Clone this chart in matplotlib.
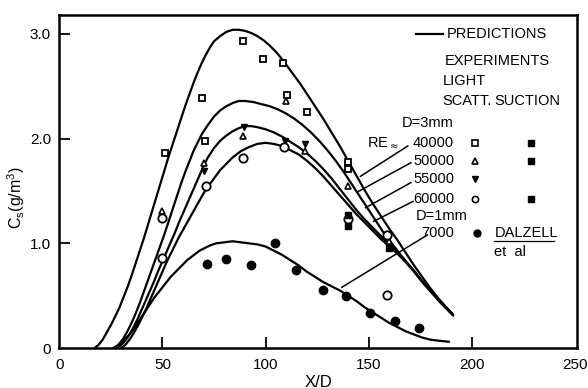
import matplotlib
matplotlib.use("Agg")
import matplotlib.pyplot as plt

plt.rcParams['font.family'] = ['Liberation Sans Narrow', 'Liberation Sans', 'DejaVu Sans']

# predicted curves, values
pred_x_40000 = [17, 19, 21, 23, 25, 27, 29, 31, 33, 35, 37, 39, 41, 43, 45, 47, 49, 51, 53, 55, 57, 59, 61, 63,
                65, 67, 69, 71, 73, 75, 78, 81, 84, 87, 90, 93, 96, 99, 102, 105, 108, 111, 114, 117, 120, 124,
                128, 132, 136, 140, 144, 148, 152, 156, 160, 164, 168, 172, 176, 180, 184, 189]
pred_y_40000 = [0, 0.03, 0.08, 0.15, 0.22, 0.30, 0.38, 0.48, 0.58, 0.69, 0.81, 0.93, 1.05, 1.18, 1.31, 1.44,
                1.57, 1.70, 1.83, 1.95, 2.07, 2.19, 2.31, 2.42, 2.53, 2.63, 2.72, 2.80, 2.87, 2.93, 2.98, 3.02,
                3.04, 3.04, 3.03, 3.01, 2.98, 2.94, 2.89, 2.83, 2.76, 2.68, 2.60, 2.52, 2.43, 2.31, 2.19, 2.06,
                1.93, 1.79, 1.65, 1.51, 1.38, 1.26, 1.14, 1.03, 0.91, 0.79, 0.68, 0.57, 0.47, 0.36]

pred_x_50000 = [27, 29, 31, 33, 35, 37, 39, 41, 43, 45, 47, 49, 51, 53, 55, 57, 59, 61, 63, 65, 67, 69, 72, 75,
                78, 81, 84, 87, 90, 94, 98, 102, 106, 110, 114, 118, 122, 126, 130, 134, 138, 142, 146, 150,
                154, 158, 162, 166, 170, 175, 180, 185, 191]
pred_y_50000 = [0, 0.04, 0.09, 0.16, 0.24, 0.33, 0.43, 0.54, 0.65, 0.76, 0.87, 0.98, 1.09, 1.21, 1.33, 1.45,
                1.57, 1.68, 1.78, 1.88, 1.96, 2.04, 2.13, 2.21, 2.27, 2.31, 2.34, 2.36, 2.36, 2.35, 2.33, 2.31,
                2.28, 2.24, 2.19, 2.13, 2.06, 1.98, 1.89, 1.79, 1.68, 1.56, 1.44, 1.32, 1.20, 1.08, 0.98, 0.88,
                0.78, 0.66, 0.55, 0.44, 0.32]

pred_x_55000 = [28, 30, 32, 34, 36, 38, 40, 42, 44, 46, 48, 50, 52, 54, 56, 58, 60, 62, 64, 66, 68, 70, 72, 75,
                78, 81, 84, 87, 90, 93, 96, 100, 104, 108, 112, 116, 120, 124, 128, 132, 136, 140, 144, 148,
                152, 156, 160, 164, 168, 172, 176, 180, 185, 191]
pred_y_55000 = [0, 0.03, 0.07, 0.13, 0.20, 0.28, 0.37, 0.46, 0.55, 0.64, 0.74, 0.83, 0.92, 1.01, 1.10, 1.20,
                1.29, 1.38, 1.47, 1.56, 1.65, 1.74, 1.82, 1.91, 1.98, 2.03, 2.07, 2.10, 2.12, 2.12, 2.11, 2.09,
                2.06, 2.02, 1.97, 1.92, 1.86, 1.79, 1.71, 1.62, 1.52, 1.42, 1.32, 1.23, 1.15, 1.07, 0.99, 0.91,
                0.83, 0.74, 0.64, 0.55, 0.44, 0.32]

pred_x_60000 = [30, 32, 34, 36, 38, 40, 42, 44, 46, 48, 50, 52, 54, 56, 58, 60, 62, 64, 66, 68, 70, 72, 75, 78,
                81, 84, 88, 92, 96, 100, 104, 108, 112, 116, 120, 124, 128, 132, 136, 140, 144, 148, 152, 156,
                160, 164, 168, 172, 176, 180, 185, 191]
pred_y_60000 = [0, 0.03, 0.08, 0.14, 0.21, 0.29, 0.37, 0.46, 0.55, 0.64, 0.73, 0.82, 0.90, 0.98, 1.06, 1.13,
                1.20, 1.27, 1.34, 1.41, 1.48, 1.54, 1.62, 1.70, 1.76, 1.82, 1.88, 1.92, 1.95, 1.96, 1.95, 1.93,
                1.89, 1.85, 1.79, 1.72, 1.64, 1.55, 1.46, 1.37, 1.28, 1.20, 1.12, 1.04, 0.97, 0.90, 0.82, 0.73,
                0.63, 0.54, 0.43, 0.31]

pred_x_7000 = [26, 28, 30, 32, 34, 36, 38, 40, 42, 44, 46, 48, 50, 52, 54, 56, 58, 60, 62, 64, 66, 68, 70, 73,
               76, 80, 84, 88, 92, 96, 100, 104, 108, 112, 116, 120, 124, 128, 132, 136, 140, 144, 148, 152,
               156, 160, 164, 168, 172, 176, 180, 184, 189]
pred_y_7000 = [0, 0.02, 0.05, 0.09, 0.13, 0.18, 0.24, 0.30, 0.36, 0.42, 0.48, 0.53, 0.58, 0.63, 0.68, 0.72,
               0.76, 0.80, 0.84, 0.87, 0.90, 0.93, 0.95, 0.98, 1.00, 1.01, 1.02, 1.01, 1.00, 0.99, 0.97, 0.93,
               0.89, 0.84, 0.79, 0.73, 0.68, 0.63, 0.59, 0.55, 0.50, 0.45, 0.39, 0.34, 0.29, 0.24, 0.20, 0.16,
               0.13, 0.10, 0.08, 0.07, 0.06]

# light scattering experiments
ls_x_40000 = [51, 69, 70.5, 89, 99, 108.5, 110.5, 120, 140, 140]
ls_y_40000 = [1.86, 2.39, 1.98, 2.93, 2.76, 2.72, 2.42, 2.25, 1.78, 1.71]
ls_x_50000 = [50, 70, 89, 110, 119, 140, 160]
ls_y_50000 = [1.31, 1.77, 2.03, 2.36, 1.88, 1.55, 1.02]
ls_x_55000 = [70, 89.6, 109.5, 119]
ls_y_55000 = [1.69, 2.11, 1.98, 1.95]
ls_x_60000 = [50, 50, 71, 89, 109, 140, 159, 159]
ls_y_60000 = [1.24, 0.86, 1.55, 1.82, 1.92, 1.23, 1.08, 0.51]

# suction experiments
su_x = [140, 140, 160]
su_y = [1.27, 1.17, 0.96]

# Dalzell et al, D = 1 mm, Re 7000
dal_x = [71.4, 81, 93, 104.6, 114.6, 127.8, 138.8, 150.8, 163, 174.6]
dal_y = [0.80, 0.85, 0.79, 1.00, 0.75, 0.55, 0.50, 0.33, 0.26, 0.19]

re_labels = ['40000', '50000', '55000', '60000']
leaders = [((146, 1.64), (169, 1.93)), ((144.5, 1.49), (170.5, 1.77)),
           ((148.5, 1.34), (170.5, 1.58)), ((152.4, 1.21), (171.5, 1.40))]

fig = plt.figure(figsize=(5.88, 3.88), dpi=100)
ax = fig.add_axes([0.101, 0.103, 0.880, 0.858])

for xs, ys in [(pred_x_40000, pred_y_40000), (pred_x_50000, pred_y_50000), (pred_x_55000, pred_y_55000),
               (pred_x_60000, pred_y_60000), (pred_x_7000, pred_y_7000)]:
    ax.plot(xs, ys, color='black', lw=1.6, solid_capstyle='round', solid_joinstyle='round')

ms = 5
ax.plot(ls_x_40000, ls_y_40000, 's', ms=ms, mfc='white', mec='black', mew=1.3)
ax.plot(ls_x_50000, ls_y_50000, '^', ms=ms, mfc='white', mec='black', mew=1.2)
ax.plot(ls_x_55000, ls_y_55000, 'v', ms=ms, mfc='black', mec='black')
ax.plot(ls_x_60000, ls_y_60000, 'o', ms=ms + 1, mfc='white', mec='black', mew=1.3)
ax.plot(su_x, su_y, 's', ms=ms, mfc='black', mec='black')
ax.plot(dal_x, dal_y, 'o', ms=ms + 1, mfc='black', mec='black')

# leader lines from labels to curves
for (x0, y0), (x1, y1) in leaders:
    ax.plot([x0, x1], [y0, y1], color='black', lw=1.1)
ax.plot([137, 178.5], [0.58, 1.08], color='black', lw=1.1)

# legend block drawn as text
fs = 10.5
ax.plot([173, 186], [3.0, 3.0], color='black', lw=1.6)
ax.text(188, 3.0, 'PREDICTIONS', fontsize=fs, va='center')
ax.text(187, 2.74, 'EXPERIMENTS', fontsize=fs, va='center')
ax.text(186, 2.55, 'LIGHT', fontsize=fs, va='center')
ax.text(186, 2.36, 'SCATT.', fontsize=fs, va='center')
ax.text(211, 2.36, 'SUCTION', fontsize=fs, va='center')
ax.text(166, 2.15, 'D=3mm', fontsize=fs, va='center')
ax.text(164.5, 1.96, 'RE$_\\approx$', fontsize=fs, va='center', ha='right')
row_y = [1.96, 1.79, 1.61, 1.42]
for lab, yy in zip(re_labels, row_y):
    ax.text(191.5, yy, lab, fontsize=fs, va='center', ha='right')
ax.plot([201.7], [1.96], 's', ms=4, mfc='white', mec='black', mew=1.2)
ax.plot([201.7], [1.79], '^', ms=4, mfc='white', mec='black', mew=1.2)
ax.plot([201.7], [1.61], 'v', ms=4, mfc='black', mec='black')
ax.plot([201.7], [1.42], 'o', ms=4.5, mfc='white', mec='black', mew=1.2)
for yy in [1.96, 1.79, 1.42]:
    ax.plot([228.7], [yy], 's', ms=4, mfc='black', mec='black')
ax.text(173, 1.26, 'D=1mm', fontsize=fs, va='center')
ax.text(191.5, 1.10, '7000', fontsize=fs, va='center', ha='right')
ax.plot([202.5], [1.10], 'o', ms=5, mfc='black', mec='black')
ax.text(211, 1.10, 'DALZELL', fontsize=fs, va='center')
ax.plot([211, 240], [1.02, 1.02], color='black', lw=0.9)
ax.text(211, 0.92, 'et  al', fontsize=fs, va='center')

ax.set_xlim(0, 251)
ax.set_ylim(0, 3.18)
ax.set_xticks([0, 50, 100, 150, 200, 250])
ax.set_xticklabels(['0', '50', '100', '150', '200', '250'])
ax.set_yticks([0, 1.0, 2.0, 3.0])
ax.set_yticklabels(['0', '1.0', '2.0', '3.0'])
ax.tick_params(direction='in', length=8, width=1.3, labelsize=11, pad=6)
ax.tick_params(axis='x', pad=7)
xt = ax.xaxis.get_major_ticks()
xt[0].tick1line.set_visible(False)
xt[-1].tick1line.set_visible(False)
ax.yaxis.get_major_ticks()[0].tick1line.set_visible(False)
for sp in ax.spines.values():
    sp.set_linewidth(1.8)

ax.set_xlabel('X/D', fontsize=12, labelpad=2)
ax.set_ylabel('C$_\\mathregular{s}$(g/m$^\\mathregular{3}$)', fontsize=11.5)
ax.yaxis.set_label_coords(-0.062, 0.453)

fig.savefig('out.png', dpi=100)
